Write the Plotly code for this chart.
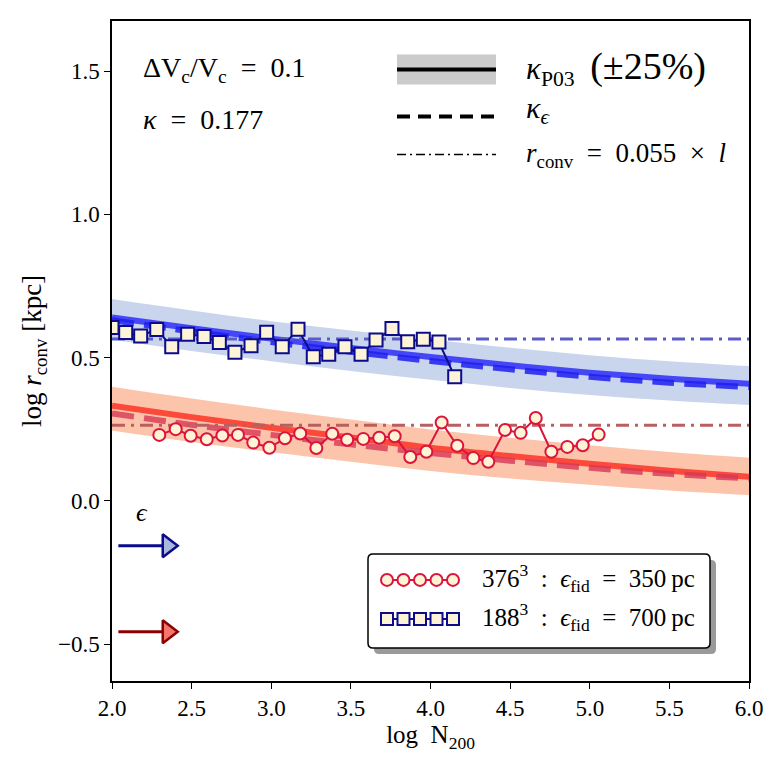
import plotly.graph_objects as go

# ---------------- data ----------------
# model curves (log N200 grid)
curve_x = [2.0, 2.5, 3.0, 3.5, 4.0, 4.5, 5.0, 5.5, 6.0]
blue_solid = [0.640, 0.602, 0.566, 0.533, 0.502, 0.473, 0.447, 0.426, 0.408]
blue_upper = [0.704, 0.664, 0.627, 0.594, 0.563, 0.534, 0.508, 0.487, 0.470]
blue_lower = [0.563, 0.523, 0.487, 0.453, 0.422, 0.394, 0.369, 0.350, 0.334]
blue_dashed = [0.630, 0.591, 0.554, 0.520, 0.488, 0.459, 0.433, 0.412, 0.397]

red_solid = [0.332, 0.292, 0.255, 0.221, 0.185, 0.156, 0.129, 0.105, 0.084]
red_upper = [0.398, 0.357, 0.319, 0.284, 0.249, 0.220, 0.194, 0.170, 0.150]
red_lower = [0.245, 0.205, 0.170, 0.136, 0.104, 0.078, 0.056, 0.036, 0.020]
red_dashed = [0.305, 0.265, 0.230, 0.197, 0.167, 0.140, 0.115, 0.094, 0.078]

# r_conv = 0.055 x l  (horizontal levels)
blue_conv_level = 0.565
red_conv_level = 0.264

# 188^3 simulation (squares)
blue_x = [2.000, 2.086, 2.180, 2.281, 2.375, 2.475, 2.578, 2.674, 2.772, 2.873,
          2.971, 3.069, 3.168, 3.264, 3.361, 3.463, 3.564, 3.658, 3.758, 3.857,
          3.955, 4.053, 4.152]
blue_y = [0.605, 0.587, 0.575, 0.598, 0.538, 0.581, 0.573, 0.552, 0.518, 0.541,
          0.588, 0.538, 0.599, 0.503, 0.511, 0.538, 0.511, 0.561, 0.601, 0.555,
          0.564, 0.554, 0.433]

# 376^3 simulation (circles)
red_x = [2.297, 2.400, 2.494, 2.595, 2.693, 2.791, 2.887, 2.988, 3.086, 3.182,
         3.283, 3.383, 3.477, 3.578, 3.678, 3.775, 3.873, 3.974, 4.070, 4.168,
         4.269, 4.363, 4.468, 4.566, 4.661, 4.759, 4.859, 4.956, 5.056]
red_y = [0.230, 0.250, 0.227, 0.215, 0.228, 0.230, 0.203, 0.185, 0.218, 0.235,
         0.184, 0.234, 0.213, 0.216, 0.220, 0.225, 0.153, 0.171, 0.273, 0.192,
         0.149, 0.136, 0.247, 0.237, 0.289, 0.171, 0.188, 0.194, 0.231]

# softening arrows (log epsilon in kpc)
eps_blue = -0.157
eps_red = -0.457
arrow_x = [2.04, 2.33]

x_ticks = [2.0, 2.5, 3.0, 3.5, 4.0, 4.5, 5.0, 5.5, 6.0]
y_ticks = [-0.5, 0.0, 0.5, 1.0, 1.5]
y_tick_text = ["\u22120.5", "0.0", "0.5", "1.0", "1.5"]

# ---------------- style ----------------
FONT = "Liberation Serif"
NAVY = "#0b0b8c"
CRIMSON = "#dc143c"
CORNSILK = "#fdf3d6"
SP = "\u2002"  # wider math spacing

fig = go.Figure()

# bands
fig.add_trace(go.Scatter(x=curve_x, y=blue_upper, mode="lines", line=dict(width=0, shape="spline"),
                         hoverinfo="skip", showlegend=False))
fig.add_trace(go.Scatter(x=curve_x, y=blue_lower, mode="lines", line=dict(width=0, shape="spline"),
                         fill="tonexty", fillcolor="#c9d5ec", hoverinfo="skip", showlegend=False))
fig.add_trace(go.Scatter(x=curve_x, y=red_upper, mode="lines", line=dict(width=0, shape="spline"),
                         hoverinfo="skip", showlegend=False))
fig.add_trace(go.Scatter(x=curve_x, y=red_lower, mode="lines", line=dict(width=0, shape="spline"),
                         fill="tonexty", fillcolor="#fcc4ab", hoverinfo="skip", showlegend=False))

# kappa_P03 solid
fig.add_trace(go.Scatter(x=curve_x, y=blue_solid, mode="lines",
                         line=dict(color="rgba(45,45,250,0.85)", width=6, shape="spline"), showlegend=False))
fig.add_trace(go.Scatter(x=curve_x, y=red_solid, mode="lines",
                         line=dict(color="rgba(252,60,45,0.9)", width=6, shape="spline"), showlegend=False))
# kappa_eps dashed
fig.add_trace(go.Scatter(x=curve_x, y=blue_dashed, mode="lines",
                         line=dict(color="rgba(30,30,240,0.85)", width=6, dash="22px,10px", shape="spline"),
                         showlegend=False))
fig.add_trace(go.Scatter(x=curve_x, y=red_dashed, mode="lines",
                         line=dict(color="rgba(215,55,85,0.8)", width=6, dash="22px,10px", shape="spline"),
                         showlegend=False))
# r_conv = 0.055 l dash-dot
fig.add_trace(go.Scatter(x=[2.0, 6.0], y=[blue_conv_level] * 2, mode="lines",
                         line=dict(color="#5c5cc8", width=3, dash="13px,6px,3px,6px"), showlegend=False))
fig.add_trace(go.Scatter(x=[2.0, 6.0], y=[red_conv_level] * 2, mode="lines",
                         line=dict(color="#b86060", width=3, dash="13px,6px,3px,6px"), showlegend=False))

# simulation data
fig.add_trace(go.Scatter(x=blue_x, y=blue_y, mode="lines+markers",
                         line=dict(color=NAVY, width=2),
                         marker=dict(symbol="square", size=13, color=CORNSILK, line=dict(color=NAVY, width=2)),
                         showlegend=False))
fig.add_trace(go.Scatter(x=red_x, y=red_y, mode="lines+markers",
                         line=dict(color=CRIMSON, width=2),
                         marker=dict(symbol="circle", size=12, color=CORNSILK, line=dict(color=CRIMSON, width=2)),
                         showlegend=False))

# softening arrows
for yv, dark, light in [(eps_blue, NAVY, "#a9b9dd"), (eps_red, "#8b0000", "#f2766c")]:
    fig.add_trace(go.Scatter(x=arrow_x, y=[yv, yv], mode="lines", line=dict(color=dark, width=3),
                             showlegend=False, hoverinfo="skip"))
    fig.add_trace(go.Scatter(x=[arrow_x[1] + 0.02], y=[yv], mode="markers",
                             marker=dict(symbol="triangle-right", size=20, color=light,
                                         line=dict(color=dark, width=2.5)),
                             showlegend=False, hoverinfo="skip"))

# ---------------- decorations (overlay axis 0..1 over plot area) ----------------
def px(X):
    return (X - 112) / 637.0

def py(Y):
    return (681 - Y) / 659.5

leg_x = [px(v) for v in [387, 403.5, 420, 436.5, 453]]
fig.add_trace(go.Scatter(x=leg_x, y=[py(580)] * 5, xaxis="x2", yaxis="y2", mode="lines+markers",
                         line=dict(color=CRIMSON, width=2), cliponaxis=False,
                         marker=dict(symbol="circle", size=12, color=CORNSILK, line=dict(color=CRIMSON, width=2)),
                         showlegend=False, hoverinfo="skip"))
fig.add_trace(go.Scatter(x=leg_x, y=[py(619)] * 5, xaxis="x2", yaxis="y2", mode="lines+markers",
                         line=dict(color=NAVY, width=2), cliponaxis=False,
                         marker=dict(symbol="square", size=12, color=CORNSILK, line=dict(color=NAVY, width=2)),
                         showlegend=False, hoverinfo="skip"))

shapes = []
# top legend samples
shapes.append(dict(type="rect", xref="paper", yref="paper", x0=px(397), x1=px(496), y0=py(85), y1=py(55),
                   fillcolor="#cbcbcb", line=dict(width=0), layer="below"))
shapes.append(dict(type="line", xref="paper", yref="paper", x0=px(397), x1=px(496), y0=py(70), y1=py(70),
                   line=dict(color="black", width=4)))
shapes.append(dict(type="line", xref="paper", yref="paper", x0=px(397), x1=px(496), y0=py(117), y1=py(117),
                   line=dict(color="black", width=4, dash="13px,8px")))
shapes.append(dict(type="line", xref="paper", yref="paper", x0=px(397), x1=px(496), y0=py(155), y1=py(155),
                   line=dict(color="black", width=1.5, dash="9px,4px,2px,4px")))

# bottom legend box with shadow
def rounded(x0, y0, x1, y1, r):
    X0, X1 = px(x0), px(x1)
    Y0, Y1 = py(y1), py(y0)
    rx, ry = r / 637.0, r / 659.5
    return (f"M {X0+rx},{Y0} L {X1-rx},{Y0} Q {X1},{Y0} {X1},{Y0+ry} "
            f"L {X1},{Y1-ry} Q {X1},{Y1} {X1-rx},{Y1} L {X0+rx},{Y1} "
            f"Q {X0},{Y1} {X0},{Y1-ry} L {X0},{Y0+ry} Q {X0},{Y0} {X0+rx},{Y0} Z")

shapes.append(dict(type="path", xref="paper", yref="paper", path=rounded(374, 560, 716, 654, 5),
                   fillcolor="#9a9a9a", line=dict(width=0), layer="below"))
shapes.append(dict(type="path", xref="paper", yref="paper", path=rounded(368, 554, 710, 648, 5),
                   fillcolor="white", line=dict(color="black", width=1.5), layer="below"))

annotations = []
def txt(X, Y, s, size=22):
    annotations.append(dict(x=px(X), y=py(Y), xref="paper", yref="paper", text=s, showarrow=False,
                            xanchor="left", yanchor="middle", font=dict(family=FONT, size=size, color="black")))

txt(141, 70, f"\u0394V<sub>c</sub>/V<sub>c</sub>{SP}={SP}0.1", 28)
txt(141, 120, f"<i>\u03ba</i>{SP}={SP}0.177", 28)
txt(524, 68, "<i>\u03ba</i><sub>P03</sub>\u2002<span style='font-size:38px'>(\u00b125%)</span>", 31)
txt(524, 110, "<i>\u03ba</i><sub><i>\u03f5</i></sub>", 30)
txt(524, 155, f"<i>r</i><sub>conv</sub>{SP}={SP}0.055{SP}\u00d7{SP}<i>l</i>", 27)
txt(480, 578, f"376<sup>3</sup>{SP}:{SP}<i>\u03f5</i><sub>fid</sub>{SP}={SP}350\u2009pc", 25)
txt(480, 617, f"188<sup>3</sup>{SP}:{SP}<i>\u03f5</i><sub>fid</sub>{SP}={SP}700\u2009pc", 25)
txt(134, 513, "<i>\u03f5</i>", 26)

fig.update_layout(
    width=779, height=765,
    margin=dict(l=112, r=30, t=21, b=84),
    paper_bgcolor="white", plot_bgcolor="white",
    shapes=shapes, annotations=annotations,
    font=dict(family=FONT, size=22, color="black"),
    xaxis=dict(range=[2.0, 6.0], tickvals=x_ticks, ticktext=[f"{v:.1f}" for v in x_ticks],
               showgrid=False, zeroline=False, showline=True, linecolor="black", linewidth=1.5,
               mirror=True, ticks="outside", ticklen=6, tickwidth=1.2, tickcolor="black",
               tickfont=dict(family=FONT, size=23),
               title=dict(text="log\u2002N<sub>200</sub>", font=dict(family=FONT, size=25), standoff=4)),
    yaxis=dict(range=[-0.629, 1.6745], tickvals=y_ticks, ticktext=y_tick_text,
               showgrid=False, zeroline=False, showline=True, linecolor="black", linewidth=1.5,
               mirror=True, ticks="outside", ticklen=6, tickwidth=1.2, tickcolor="black",
               tickfont=dict(family=FONT, size=23),
               title=dict(text="log <i>r</i><sub>conv</sub> [kpc]", font=dict(family=FONT, size=27), standoff=8)),
    xaxis2=dict(range=[0, 1], overlaying="x", visible=False, fixedrange=True),
    yaxis2=dict(range=[0, 1], overlaying="y", visible=False, fixedrange=True),
)

fig.write_html("out.html")
